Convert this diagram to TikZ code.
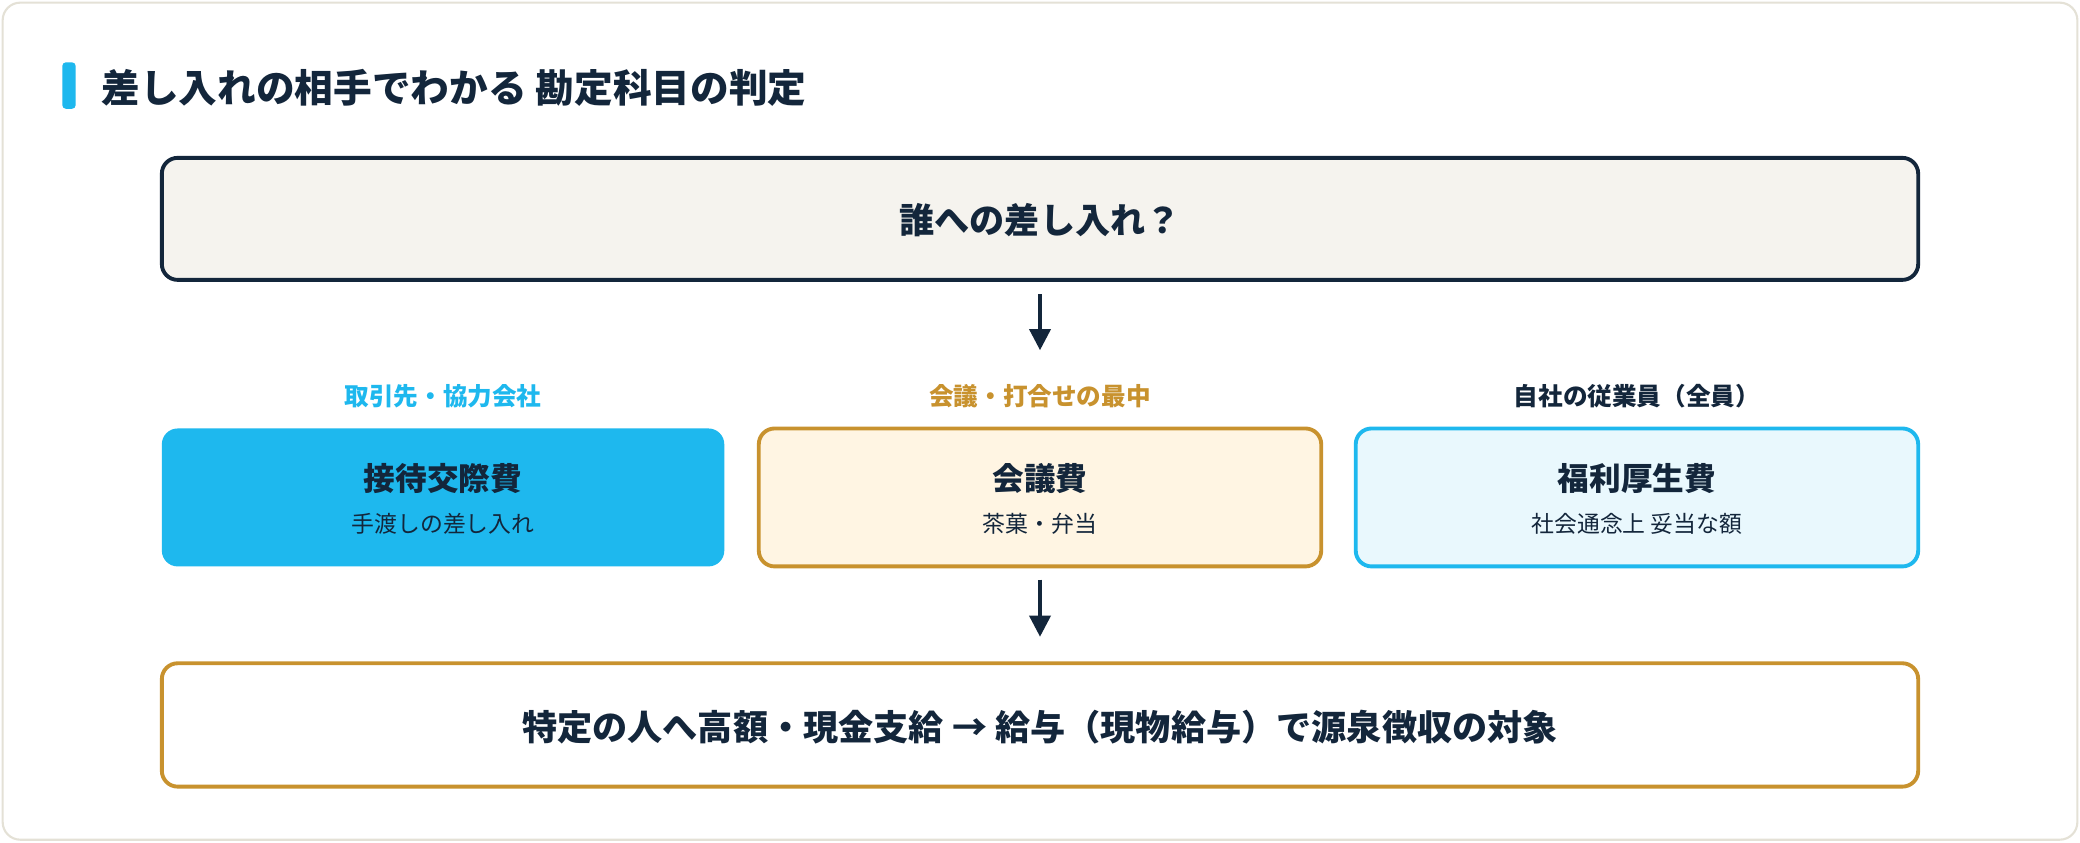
\documentclass[tikz,border=0pt]{standalone}
\usepackage{fontspec}
\setmainfont{Noto Sans CJK JP}
\usepackage{tikz}
\usetikzlibrary{arrows.meta}
\definecolor{navy}{HTML}{13263B}
\definecolor{skyblue}{HTML}{1EB8EE}
\definecolor{gold}{HTML}{C8922E}
\definecolor{paper}{HTML}{F5F3EE}
\definecolor{cream}{HTML}{FFF5E3}
\definecolor{ice}{HTML}{E9F8FD}
\definecolor{frame}{HTML}{E4E1D6}

\begin{document}
\begin{tikzpicture}[x=0.013265cm, y=-0.013265cm, line width=1.1pt,
      every node/.append style={text=navy, inner sep=0pt}]
    \tikzstyle{panel} = [rounded corners=4.5pt]
    \tikzstyle{lead} = [font=\bfseries\fontsize{7}{8}\selectfont]
    \tikzstyle{head} = [font=\bfseries\fontsize{9}{10}\selectfont]
    \tikzstyle{sub} = [font=\fontsize{6.5}{7.5}\selectfont]
    \tikzstyle{flow} = [-{Triangle[length=6pt,width=6pt]}, draw=navy, line width=1pt]
    \useasboundingbox (0,0) rectangle (1568,635);
    \draw[frame, line width=0.6pt, fill=white, rounded corners=5pt] (2,2) rectangle (1566,633);
    % title
    \fill[skyblue, rounded corners=1pt] (47,47) rectangle (57,82);
    \node[anchor=west, font=\bfseries\fontsize{11}{12}\selectfont] (title) at (75,66) {差し入れの相手でわかる 勘定科目の判定};
    % question
    \draw[panel, navy, fill=paper] (122,119) rectangle (1446,211);
    \node[font=\bfseries\fontsize{10}{11}\selectfont] (ask) at (784,166) {誰への差し入れ？};
    \coordinate (askb) at (784,222);
    \coordinate (midt) at (784,264);
    \draw[flow] (askb) -- (midt);
    % three cases
    \node[lead, text=skyblue] (lpartner) at (334,299) {取引先・協力会社};
    \node[lead, text=gold] (lmeeting) at (784,299) {会議・打合せの最中};
    \node[lead] (lstaff) at (1234,299) {自社の従業員（全員）};
    \fill[panel, skyblue] (122,323) rectangle (546,427);
    \draw[panel, gold, fill=cream] (572,323) rectangle (996,427);
    \draw[panel, skyblue, fill=ice] (1022,323) rectangle (1446,427);
    \node[head] (entertain) at (334,361) {接待交際費};
    \node[sub] (entertainsub) at (334,395) {手渡しの差し入れ};
    \node[head] (meeting) at (784,361) {会議費};
    \node[sub] (meetingsub) at (784,395) {茶菓・弁当};
    \node[head] (welfare) at (1234,361) {福利厚生費};
    \node[sub] (welfaresub) at (1234,395) {社会通念上 妥当な額};
    \coordinate (midb) at (784,437);
    \coordinate (salt) at (784,480);
    \draw[flow] (midb) -- (salt);
    % note
    \draw[panel, gold, fill=white] (122,500) rectangle (1446,593);
    \node[font=\bfseries\fontsize{10}{11}\selectfont] (salary) at (784,548) {特定の人へ高額・現金支給 → 給与（現物給与）で源泉徴収の対象};
\end{tikzpicture}
\end{document}
